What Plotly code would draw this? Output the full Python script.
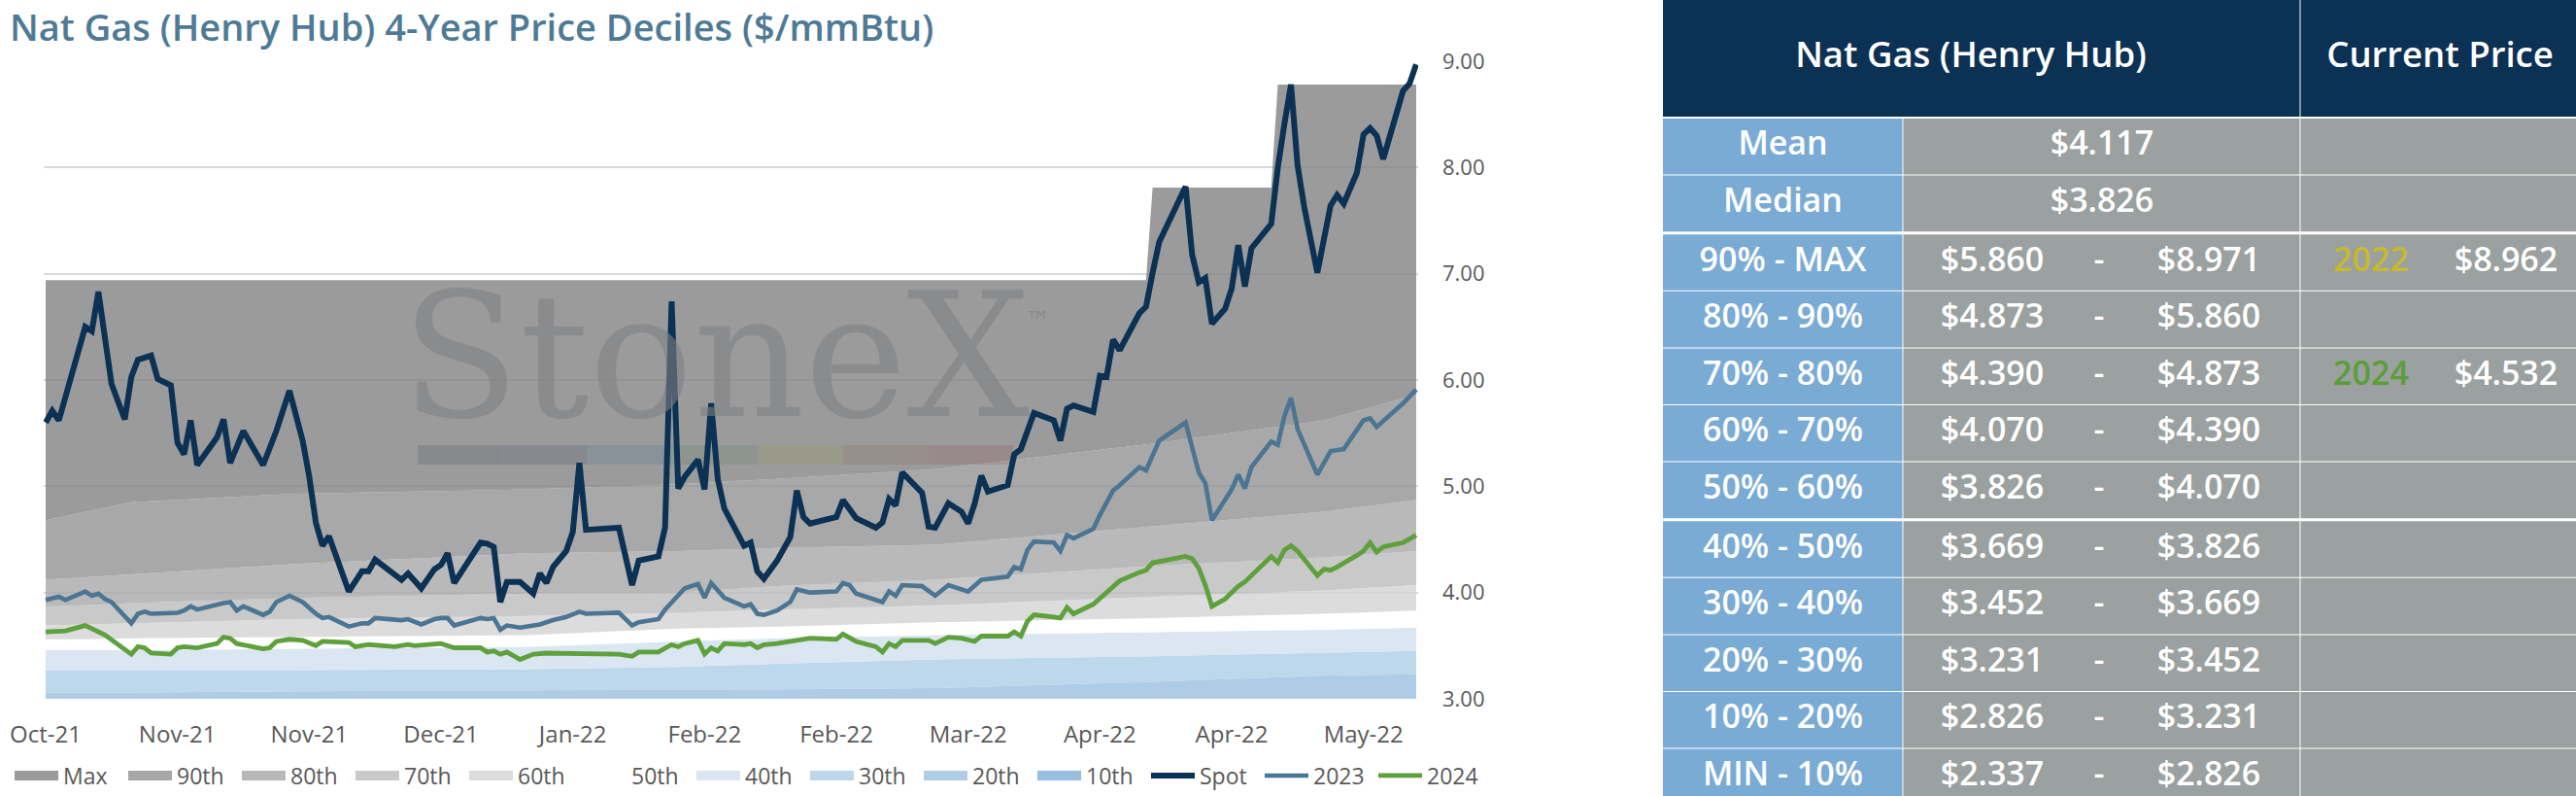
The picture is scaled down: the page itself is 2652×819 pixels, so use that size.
"""Nat Gas (Henry Hub) 4-year price deciles, with the decile table on the right."""

import plotly.graph_objects as go

W, H = 2652, 819
FONT = "Open Sans"
TICK_GREY = "#595959"
NAVY = "#0b3154"
TITLE_BLUE = "#4f7a96"

# ---------------- chart data ----------------
# x is the trading-day index, one label every 20 days
tick_pos = [0, 20, 40, 60, 80, 100, 120, 140, 160, 180, 200]
tick_text = ["Oct-21", "Nov-21", "Nov-21", "Dec-21", "Jan-22", "Feb-22",
             "Feb-22", "Mar-22", "Apr-22", "Apr-22", "May-22"]

spot_x = [0, 1, 2, 6, 7, 8, 10, 12, 13, 14, 16, 17, 19, 20, 21, 22, 23, 26, 27, 28,
          30, 33, 35, 37, 39, 40, 41, 42, 43, 46, 48, 49, 50, 54, 55, 57, 59, 60, 61, 62,
          66, 67, 68, 69, 70, 72, 74, 75, 76, 77, 79, 80, 81, 82, 87, 89, 90, 93, 94, 95,
          96, 97, 99, 100, 101, 102, 103, 106, 107, 108, 109, 111, 113, 114, 115, 116, 120, 121, 123, 126,
          127, 128, 129, 130, 133, 134, 135, 137, 139, 140, 141, 142, 143, 146, 147, 148, 150, 153, 154, 155,
          156, 159, 160, 161, 162, 163, 166, 167, 168, 169, 173, 174, 175, 176, 177, 179, 180, 181, 182, 183,
          186, 187, 188, 189, 190, 191, 193, 195, 196, 197, 199, 200, 201, 202, 203, 206, 207, 208]
spot_y = [5.60, 5.71, 5.62, 6.50, 6.46, 6.83, 5.96, 5.63, 6.03, 6.19, 6.23, 6.01, 5.95, 5.41, 5.30, 5.62, 5.20, 5.46, 5.63, 5.22,
          5.52, 5.20, 5.52, 5.90, 5.43, 5.09, 4.66, 4.44, 4.53, 4.01, 4.20, 4.20, 4.31, 4.12, 4.18, 4.04, 4.22, 4.26, 4.37, 4.09,
          4.47, 4.46, 4.43, 3.91, 4.10, 4.10, 3.99, 4.18, 4.09, 4.24, 4.39, 4.57, 5.22, 4.59, 4.61, 4.07, 4.30, 4.34, 4.61, 6.74,
          4.98, 5.09, 5.25, 4.97, 5.78, 5.07, 4.79, 4.44, 4.47, 4.20, 4.13, 4.30, 4.52, 4.96, 4.71, 4.65, 4.71, 4.87, 4.70, 4.61,
          4.66, 4.88, 4.82, 5.13, 4.94, 4.62, 4.61, 4.84, 4.76, 4.65, 4.84, 5.10, 4.95, 5.01, 5.30, 5.35, 5.69, 5.62, 5.43, 5.73,
          5.76, 5.70, 6.04, 6.03, 6.38, 6.28, 6.63, 6.69, 7.01, 7.30, 7.82, 7.18, 6.92, 6.96, 6.53, 6.67, 6.86, 7.27, 6.88, 7.24,
          7.47, 8.00, 8.41, 8.78, 8.02, 7.63, 7.01, 7.64, 7.74, 7.66, 7.95, 8.31, 8.37, 8.30, 8.08, 8.72, 8.79, 8.97]

cal23_x = [0, 2, 3, 6, 7, 8, 9, 10, 13, 14, 15, 16, 20, 21, 22, 23, 27, 28, 29, 30,
           33, 34, 35, 37, 39, 41, 42, 43, 46, 48, 49, 50, 54, 55, 57, 59, 60, 61, 62, 66,
           67, 68, 69, 70, 72, 75, 77, 79, 81, 82, 87, 89, 90, 93, 94, 97, 99, 100, 101, 103,
           106, 107, 108, 109, 111, 113, 114, 116, 120, 121, 122, 123, 127, 128, 129, 130, 133, 135, 137, 140,
           142, 146, 147, 148, 149, 150, 153, 154, 155, 156, 159, 160, 162, 163, 166, 167, 169, 173, 175, 176,
           177, 180, 181, 182, 183, 186, 187, 188, 189, 190, 193, 195, 197, 199, 200, 201, 202, 206, 208]
cal23_y = [3.93, 3.96, 3.93, 4.01, 3.97, 3.99, 3.94, 3.91, 3.71, 3.80, 3.82, 3.80, 3.81, 3.83, 3.87, 3.84, 3.90, 3.91, 3.83, 3.87,
           3.79, 3.82, 3.91, 3.97, 3.91, 3.80, 3.76, 3.77, 3.68, 3.71, 3.71, 3.76, 3.74, 3.75, 3.70, 3.75, 3.76, 3.76, 3.69, 3.76,
           3.75, 3.76, 3.65, 3.69, 3.67, 3.70, 3.74, 3.77, 3.82, 3.80, 3.81, 3.69, 3.72, 3.75, 3.84, 4.04, 4.08, 3.95, 4.09, 3.95,
           3.87, 3.89, 3.80, 3.79, 3.83, 3.91, 4.03, 4.00, 4.01, 4.09, 4.07, 3.99, 3.91, 4.01, 3.97, 4.07, 4.06, 3.97, 4.07, 4.01,
           4.12, 4.15, 4.24, 4.22, 4.40, 4.48, 4.47, 4.39, 4.54, 4.51, 4.60, 4.73, 4.96, 5.01, 5.18, 5.15, 5.43, 5.60, 5.13, 5.03,
           4.68, 4.97, 5.11, 4.98, 5.18, 5.42, 5.39, 5.66, 5.83, 5.54, 5.11, 5.33, 5.35, 5.52, 5.62, 5.64, 5.56, 5.78, 5.91]

cal24_x = [0, 3, 6, 7, 9, 13, 14, 15, 16, 19, 20, 21, 23, 26, 27, 28, 29, 33, 34, 35,
           37, 39, 41, 42, 46, 47, 49, 53, 55, 56, 60, 62, 66, 67, 68, 69, 70, 72, 74, 76,
           80, 83, 87, 89, 90, 93, 95, 96, 97, 99, 100, 101, 102, 103, 106, 107, 108, 109, 111, 116,
           120, 121, 123, 126, 127, 128, 129, 130, 134, 135, 137, 139, 141, 142, 146, 147, 148, 149, 150, 153,
           154, 155, 156, 159, 161, 163, 166, 167, 168, 173, 174, 175, 176, 177, 179, 181, 182, 186, 187, 188,
           189, 190, 193, 194, 195, 196, 199, 200, 201, 202, 203, 206, 208]
cal24_y = [3.63, 3.64, 3.69, 3.66, 3.60, 3.42, 3.49, 3.48, 3.43, 3.42, 3.48, 3.49, 3.48, 3.52, 3.58, 3.57, 3.52, 3.47, 3.48, 3.54,
           3.56, 3.55, 3.50, 3.54, 3.53, 3.49, 3.51, 3.49, 3.51, 3.50, 3.52, 3.48, 3.48, 3.44, 3.45, 3.42, 3.44, 3.37, 3.42, 3.43,
           3.43, 3.43, 3.42, 3.40, 3.44, 3.44, 3.51, 3.49, 3.52, 3.55, 3.42, 3.48, 3.45, 3.52, 3.51, 3.52, 3.48, 3.51, 3.52, 3.57,
           3.56, 3.61, 3.54, 3.49, 3.44, 3.52, 3.49, 3.55, 3.55, 3.52, 3.58, 3.57, 3.54, 3.59, 3.59, 3.63, 3.59, 3.73, 3.79, 3.77,
           3.76, 3.86, 3.80, 3.89, 4.00, 4.11, 4.19, 4.21, 4.28, 4.34, 4.32, 4.23, 4.07, 3.87, 3.94, 4.06, 4.10, 4.34, 4.28, 4.40,
           4.44, 4.39, 4.16, 4.22, 4.21, 4.24, 4.35, 4.39, 4.47, 4.38, 4.43, 4.47, 4.54]

# decile bands (upper edge of each band), read at a handful of dates
band_x = [0, 6, 13, 38, 73, 96, 111, 135, 168, 194, 208]
p10 = [2.60, 2.61, 2.62, 2.64, 2.66, 2.68, 2.70, 2.73, 2.77, 2.80, 2.83]
p20 = [3.06, 3.06, 3.06, 3.07, 3.08, 3.08, 3.09, 3.10, 3.16, 3.22, 3.23]
p30 = [3.27, 3.27, 3.27, 3.27, 3.28, 3.30, 3.33, 3.37, 3.40, 3.43, 3.45]
p40 = [3.46, 3.46, 3.46, 3.47, 3.49, 3.54, 3.57, 3.60, 3.63, 3.65, 3.67]
p50 = [3.56, 3.56, 3.57, 3.58, 3.60, 3.66, 3.68, 3.72, 3.76, 3.80, 3.83]
p60 = [3.69, 3.70, 3.71, 3.75, 3.78, 3.81, 3.84, 3.88, 3.96, 4.02, 4.07]
p70 = [3.87, 3.88, 3.90, 3.95, 3.99, 4.00, 4.06, 4.12, 4.25, 4.33, 4.39]
p80 = [4.12, 4.14, 4.17, 4.27, 4.37, 4.39, 4.42, 4.45, 4.62, 4.76, 4.87]
p90 = [4.68, 4.76, 4.85, 4.93, 4.97, 5.02, 5.07, 5.16, 5.40, 5.62, 5.86]
max_x = [0, 167, 168, 186, 187, 208]
max_y = [6.94, 6.94, 7.81, 7.81, 8.78, 8.78]

band_names = ["10th", "20th", "30th", "40th", "50th", "60th", "70th", "80th", "90th", "Max"]

# ---------------- table data ----------------
stat_labels = ["Mean", "Median"]
stat_values = [4.117, 3.826]
range_labels = ["90% - MAX", "80% - 90%", "70% - 80%", "60% - 70%", "50% - 60%",
                "40% - 50%", "30% - 40%", "20% - 30%", "10% - 20%", "MIN - 10%"]
range_low = [5.860, 4.873, 4.390, 4.070, 3.826, 3.669, 3.452, 3.231, 2.826, 2.337]
range_high = [8.971, 5.860, 4.873, 4.390, 4.070, 3.826, 3.669, 3.452, 3.231, 2.826]
current_rows = ["90% - MAX", "70% - 80%"]
current_years = ["2022", "2024"]
current_prices = [8.962, 4.532]


def px(x):
    return x / W


def py(y):
    return 1 - y / H


# band styling: fill is a bit see-through so the grid shows, legend uses the flat colour
band_fill = ["rgba(126,175,219,0.8)", "rgba(155,191,224,0.8)", "rgba(172,205,230,0.8)",
             "rgba(209,224,239,0.8)", "rgba(255,255,255,0.8)", "rgba(211,211,211,0.8)",
             "rgba(187,187,187,0.8)", "rgba(167,167,168,0.8)", "rgba(146,146,147,0.8)",
             "rgba(130,130,131,0.8)"]
band_swatch = ["#96bee0", "#b0cde7", "#bfd7eb", "#dae6f2", "#ffffff", "#dcdcdc",
               "#c9c9c9", "#b8b8b9", "#a7a7a8", "#9a9a9b"]

fig = go.Figure()

# legend entries for the bands (Max first, like the original)
for i in reversed(range(len(band_names))):
    fig.add_trace(go.Scatter(x=[None], y=[None], mode="lines", name=band_names[i],
                             line=dict(color=band_swatch[i], width=10), hoverinfo="skip"))

band_tops = [p10, p20, p30, p40, p50, p60, p70, p80, p90]
for i, top in enumerate(band_tops):
    fig.add_trace(go.Scatter(x=band_x, y=top, mode="lines", line=dict(width=0),
                             fill="tozeroy" if i == 0 else "tonexty",
                             fillcolor=band_fill[i], showlegend=False, hoverinfo="skip"))
fig.add_trace(go.Scatter(x=max_x, y=max_y, mode="lines", line=dict(width=0),
                         fill="tonexty", fillcolor=band_fill[9], showlegend=False,
                         hoverinfo="skip"))

fig.add_trace(go.Scatter(x=spot_x, y=spot_y, mode="lines", name="Spot",
                         line=dict(color=NAVY, width=6)))
fig.add_trace(go.Scatter(x=cal23_x, y=cal23_y, mode="lines", name="2023",
                         line=dict(color="#4a7593", width=4.6)))
fig.add_trace(go.Scatter(x=cal24_x, y=cal24_y, mode="lines", name="2024",
                         line=dict(color="#5ea03c", width=4.8)))

# ---------------- table on its own hidden axes ----------------
T_LEFT = 1712
col_left = [0, 247.5, 656.5]
col_width = [246.5, 408, 283.5]
HEADER_H = 120
ROW_TOP0, ROW_PITCH, ROW_H = 122, 58.6, 57.6

all_labels = stat_labels + range_labels
row_top = []
for i in range(len(all_labels)):
    row_top.append(ROW_TOP0 + ROW_PITCH * i + 2 * (i >= 2) + 2 * (i >= 7))
row_mid = [t + ROW_H / 2 for t in row_top]
n_rows = len(all_labels)

tbl = dict(xaxis="x2", yaxis="y2", hoverinfo="skip", showlegend=False)
fig.add_trace(go.Bar(orientation="h", y=[HEADER_H / 2] * 2, x=[col_left[1] + col_width[1], col_width[2]],
                     base=[0, col_left[2]], width=[HEADER_H] * 2, marker=dict(color=NAVY, line_width=0), **tbl))
fig.add_trace(go.Bar(orientation="h", y=row_mid, x=[col_width[0]] * n_rows, base=[col_left[0]] * n_rows,
                     width=[ROW_H] * n_rows, marker=dict(color="#7aabd4", line_width=0), **tbl))
fig.add_trace(go.Bar(orientation="h", y=row_mid, x=[col_width[1]] * n_rows, base=[col_left[1]] * n_rows,
                     width=[ROW_H] * n_rows, marker=dict(color="#9aa1a0", line_width=0), **tbl))
fig.add_trace(go.Bar(orientation="h", y=row_mid, x=[col_width[2]] * n_rows, base=[col_left[2]] * n_rows,
                     width=[ROW_H] * n_rows, marker=dict(color="#9aa1a0", line_width=0), **tbl))

cell_font = dict(family=FONT, size=34, color="white", weight=600)
fig.add_trace(go.Scatter(x=[317, 800], y=[HEADER_H / 2] * 2, mode="text",
                         text=["Nat Gas (Henry Hub)", "Current Price"],
                         textfont=dict(family=FONT, size=36.5, color="white", weight=600), **tbl))
fig.add_trace(go.Scatter(x=[123.5] * n_rows, y=row_mid, mode="text", text=all_labels,
                         textfont=cell_font, **tbl))
fig.add_trace(go.Scatter(x=[452] * len(stat_values), y=row_mid[:2], mode="text",
                         text=[f"${v:.3f}" for v in stat_values], textfont=cell_font, **tbl))
fig.add_trace(go.Scatter(x=[339] * len(range_low), y=row_mid[2:], mode="text",
                         text=[f"${v:.3f}" for v in range_low], textfont=cell_font, **tbl))
fig.add_trace(go.Scatter(x=[449] * len(range_low), y=row_mid[2:], mode="text",
                         text=["-"] * len(range_low), textfont=cell_font, **tbl))
fig.add_trace(go.Scatter(x=[562] * len(range_high), y=row_mid[2:], mode="text",
                         text=[f"${v:.3f}" for v in range_high], textfont=cell_font, **tbl))
cur_y = [row_mid[all_labels.index(r)] for r in current_rows]
fig.add_trace(go.Scatter(x=[729] * len(current_years), y=cur_y, mode="text", text=current_years,
                         textfont=dict(family=FONT, size=34, color=["#c8b92e", "#5a9e37"], weight=600),
                         **tbl))
fig.add_trace(go.Scatter(x=[868] * len(current_prices), y=cur_y, mode="text",
                         text=[f"${v:.3f}" for v in current_prices], textfont=cell_font, **tbl))

# ---------------- watermark ----------------
logo_cols = ["rgb(155,170,181)", "rgb(150,170,191)", "rgb(170,210,241)", "rgb(180,225,196)",
             "rgb(250,250,166)", "rgb(230,190,166)", "rgb(240,170,171)"]
seg_w = (1043 - 430) / len(logo_cols)
shapes = []
for k, c in enumerate(logo_cols):
    shapes.append(dict(type="rect", xref="paper", yref="paper", layer="below",
                       x0=px(430 + k * seg_w), x1=px(430 + (k + 1) * seg_w),
                       y0=py(478), y1=py(458), fillcolor=c, line_width=0))

annotations = [
    dict(text="StoneX", x=px(736), y=py(367), xref="paper", yref="paper", showarrow=False,
         xanchor="center", yanchor="middle",
         font=dict(family="DejaVu Serif", size=178, color="rgba(125,128,132,0.6)")),
    dict(text="™", x=px(1068), y=py(330), xref="paper", yref="paper", showarrow=False,
         xanchor="center", yanchor="middle",
         font=dict(family="DejaVu Sans", size=26, color="rgba(125,128,132,0.6)")),
]

fig.update_layout(
    width=W, height=H, autosize=False,
    margin=dict(l=0, r=0, t=0, b=0, pad=0, autoexpand=False),
    paper_bgcolor="white", plot_bgcolor="rgba(0,0,0,0)",
    barmode="overlay",
    font=dict(family=FONT, color=TICK_GREY),
    title=dict(text="Nat Gas (Henry Hub) 4-Year Price Deciles ($/mmBtu)",
               x=px(10), xanchor="left", y=py(29), yanchor="middle", automargin=False,
               font=dict(family=FONT, size=38, color=TITLE_BLUE, weight=600)),
    xaxis=dict(domain=[px(45), px(1460)], range=[-0.3, 208.3], tickvals=tick_pos, ticktext=tick_text,
               showgrid=False, zeroline=False, showline=False, ticks="", automargin=False,
               tickfont=dict(size=24, color=TICK_GREY), ticklabelstandoff=20, fixedrange=True),
    yaxis=dict(domain=[py(719), py(63)], range=[3, 9], side="right", dtick=1, tickformat=".2f",
               gridcolor="#d9d9d9", gridwidth=2, zeroline=False, showline=False, ticks="",
               automargin=False, tickfont=dict(size=22, color=TICK_GREY), ticklabelstandoff=24,
               fixedrange=True),
    xaxis2=dict(domain=[px(T_LEFT), 1], range=[0, W - T_LEFT], anchor="y2", visible=False,
                automargin=False, fixedrange=True),
    yaxis2=dict(domain=[0, 1], range=[H, 0], anchor="x2", visible=False, automargin=False,
                fixedrange=True),
    legend=dict(orientation="h", x=px(10), xanchor="left", y=py(798), yanchor="middle",
                font=dict(size=23, color=TICK_GREY), itemwidth=45, entrywidth=57.0,
                entrywidthmode="pixels", bgcolor="rgba(0,0,0,0)", traceorder="normal",
                tracegroupgap=0, itemclick=False, itemdoubleclick=False),
    shapes=shapes,
    annotations=annotations,
)

# the page's default body margin would push the figure 8px down and right
fig.write_html("out.html", config={"displayModeBar": False},
               post_script="document.body.style.margin = '0';")
